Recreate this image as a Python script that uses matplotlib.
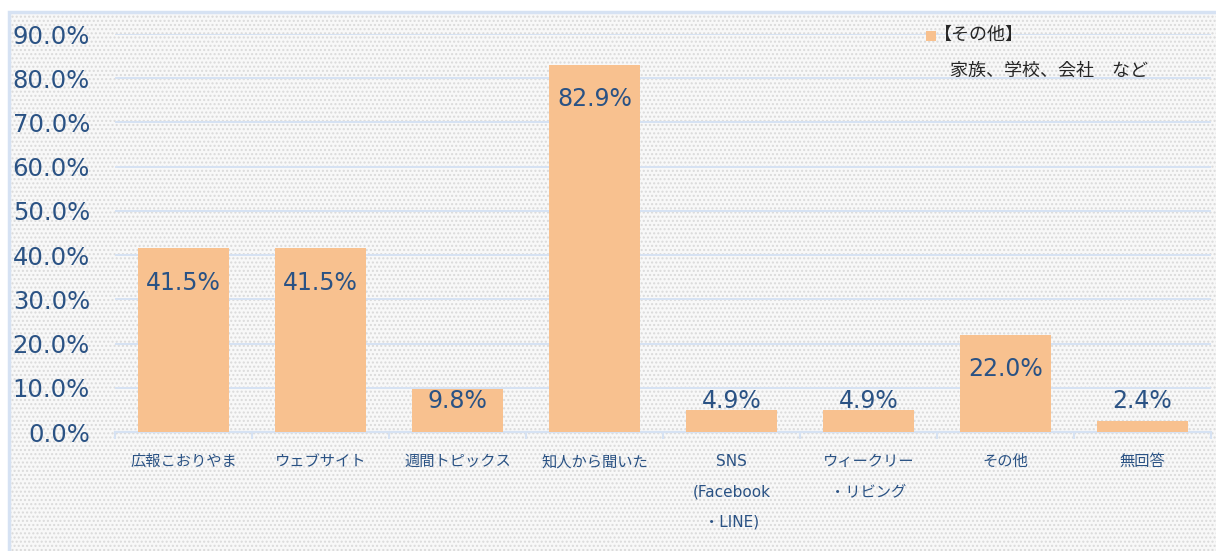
import matplotlib
matplotlib.use("Agg")
import matplotlib.pyplot as plt
from matplotlib.patches import Rectangle
import numpy as np

plt.rcParams['font.family'] = ['DejaVu Sans', 'Noto Sans CJK JP']
plt.rcParams['hatch.linewidth'] = 1.0

# data
categories = ['広報こおりやま', 'ウェブサイト', '週間トピックス', '知人から聞いた',
              'SNS\n(Facebook\n・LINE)', 'ウィークリー\n・リビング', 'その他', '無回答']
values = [41.5, 41.5, 9.8, 82.9, 4.9, 4.9, 22.0, 2.4]
yticks = [0, 10, 20, 30, 40, 50, 60, 70, 80, 90]

text_col = '#2a5284'
grid_col = '#d6e2f3'
bar_col = '#f8c18f'

fig = plt.figure(figsize=(12.16, 5.51), dpi=100)
W, H = 1216, 551

# dotted background inside the chart border
bg = Rectangle((9 / W, 0), 1 - 9 / W, 1 - 12 / H, transform=fig.transFigure,
               facecolor='#f8f8f8', edgecolor='#dadada', hatch='....',
               linewidth=0, zorder=-2)
fig.patches.append(bg)
border = Rectangle((9 / W, -0.01), 1.0, 1 - 12 / H + 0.01, transform=fig.transFigure,
                   facecolor='none', edgecolor=grid_col, linewidth=2.5, zorder=-1)
fig.patches.append(border)

ax = fig.add_axes([115 / W, 1 - 432 / H, 1096 / W, (432 - 34) / H])
ax.set_facecolor('none')
ax.set_zorder(1)

x = np.arange(len(values))
ax.bar(x, values, width=0.67, color=bar_col, zorder=3)

# labels sit inside the bar top, but never lower than ~7%
for xi, v in zip(x, values):
    ax.text(xi, max(v - 7.7, 7.0), f'{v:.1f}%', ha='center', va='center',
            fontsize=17, color=text_col, zorder=4)

ax.set_xlim(-0.5, len(values) - 0.5)
ax.set_ylim(0, 90)
ax.set_yticks(yticks)
ax.set_yticklabels([f'{t:.1f}%' for t in yticks], fontsize=17.5, color=text_col)
ax.tick_params(axis='y', length=0, pad=18)

ax.set_xticks(x)
ax.set_xticklabels(categories, fontsize=11, color=text_col, linespacing=2.25,
                   va='top')
ax.set_xticks(np.arange(len(values) + 1) - 0.5, minor=True)
ax.tick_params(axis='x', which='major', length=0, pad=16)
ax.tick_params(axis='x', which='minor', length=5, color=grid_col, width=1.5)

ax.grid(axis='y', color=grid_col, linewidth=1.4, zorder=0)
for s in ['top', 'right', 'left']:
    ax.spines[s].set_visible(False)
ax.spines['bottom'].set_color(grid_col)
ax.spines['bottom'].set_linewidth(1.6)

# legend-like note
fig.patches.append(Rectangle((926 / W, 1 - 41 / H), 10 / W, 10 / H,
                             transform=fig.transFigure, facecolor=bar_col,
                             edgecolor='none', zorder=5))
fig.text(934 / W, 1 - 35 / H, '【その他】', fontsize=13, color='#262626',
         va='center', ha='left', family=['Noto Sans CJK JP'])
fig.text(950 / W, 1 - 71 / H, '家族、学校、会社　など', fontsize=13, color='#262626',
         va='center', ha='left', family=['Noto Sans CJK JP'])

fig.savefig('out.png', dpi=100)
